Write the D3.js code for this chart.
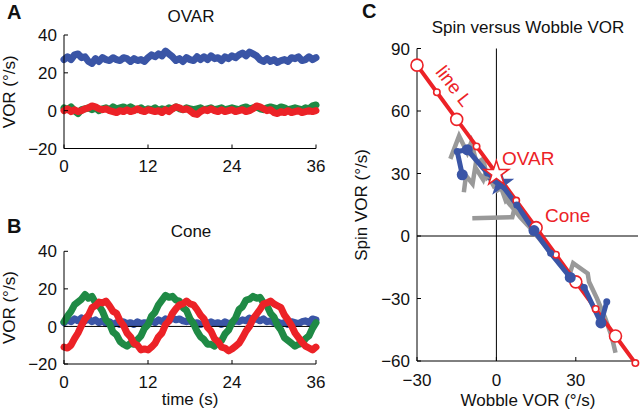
<!DOCTYPE html>
<html><head><meta charset="utf-8">
<script src="https://cdn.jsdelivr.net/npm/d3@7"></script>
<style>body{margin:0;background:#fff} text{font-family:"Liberation Sans",Arial,Helvetica,sans-serif;fill:#111}</style>
</head><body><svg id="c" width="640" height="414"></svg>
<script>
// ---------- data ----------
const timeStep = 0.5; // seconds between samples
const timeTicks = [0, 12, 24, 36];
const vorTicks = [-20, 0, 20, 40];

const ovarBlue = [27,28.5,27,29.5,30,28,28.5,26,25,27.5,26,28,27,26.5,28,27,26.5,28,27.5,26,27.5,26.5,27,26,28,29.5,28.5,30,29,31.5,30,28.5,26.5,27.5,26,28,27,26.5,28.5,27,28.5,27,29,27.5,28,26.5,28.5,27.5,29,28,29.5,30.5,29,31,30,29,27,26,27.5,26,27,25.5,26.5,27,26,28,27.5,28.5,26.5,27,28.5,27,28];
const ovarGreen = [1.5,0.5,2,0,-1.5,0.5,1,1.5,0.5,1.5,0,1,1.5,0.5,2,1,1.5,2,1,2,1,0.5,1.5,0,1,0.5,1.5,0,1,0.5,1.5,1,2,1,0.5,1.5,1,0.5,1,1.5,0.5,1,1.5,0.5,1,1.5,0.5,1,1.5,1,0.5,1.5,2,1,1.5,2,1,0.5,1.5,2,1.5,1,2,1.5,0.5,1,1.5,1,0.5,1.5,1,2.5,3];
const ovarRed = [0,1,-0.5,0.5,-0.5,0,1,1.5,2.5,2,1,0.5,1,0,-0.5,-1,0,-0.5,0.5,-0.5,0,1,0,-0.5,0.5,0,-0.5,0,-1,0.5,-0.5,1,2,1.5,0.5,1,0,-1.5,-2,-0.5,0.5,0,1,0,-0.5,0.5,-0.5,0,0.5,-0.5,0,0.5,-0.5,0,1,2.5,2,1,0,0.5,-1,-1.5,-0.5,-1,0,-1,-0.5,0,-1,-0.5,0,-0.5,0];

const coneBlue = [2,3.5,2.5,4,3,4.5,3,4,2.5,3.5,2,3,1.5,2.5,1,2,1,2.5,1.5,2,1,2.5,1.5,2,1.5,3,2,3.5,2.5,4,3,4.5,3.5,4,3,2.5,3,1.5,2,1,2,1.5,2.5,1.5,2,1,2.5,1.5,2,3,2.5,3.5,3,4.5,3.5,4,3,4,2.5,3,2,2.5,1.5,2,1,2.5,2,1.5,2.5,3,2,4,3.5];
const coneGreen = [2.5,5.5,8,11.5,13,14.5,17,15,16,12.5,11,8,3.5,1.5,-3,-4.5,-8,-9.5,-10.5,-9,-9.5,-7,-5,-1,
  1,5.5,7.5,11.5,14,16.5,15.5,16,14,13.5,10,8.5,4,1.5,-2.5,-5.5,-7,-9.5,-9.5,-10.5,-8.5,-7.5,-4,-2,
  2,4.5,9,10.5,14,14.5,16,15,15.5,12.5,11,7,5,0.5,-2,-6,-7.5,-9,-10.5,-9.5,-9,-6.5,-5,-1,2];
const coneRed = [-11,-11.5,-10,-6.5,-3.5,0.5,4,6,10,11,13,12.5,13.5,11,8,7,3,0.5,-3.5,-5.5,-9,-10,-12.5,-12,
  -12.5,-11,-9,-5.5,-3.5,1,3,7,9.5,11.5,12,13.5,12,11.5,9,6,4,-0.5,-2.5,-6.5,-8,-11,-11.5,-13,
  -12,-10.5,-9,-6,-2.5,0,4,6.5,9,12,12.5,13.5,12,11,10,6,3.5,0.5,-3.5,-6,-8.5,-10.5,-11.5,-12.5,-11];

const wobbleTicks = [-30, 0, 30];
const spinTicks = [-60, -30, 0, 30, 60, 90];

// line L points (wobble, spin); big = large open circle
const lineLWobble = [-30,-22.5,-15,-7.5,0,7.5,15,22.5,30,37.5,45,52.5];
const lineLSpin   = [82,69,56,43,30,17,4,-9,-22,-35,-48,-61];
const lineLBig    = [1,0,1,0,0,0,1,0,1,0,1,0];
const ovarPoint = [0, 30];

// blue mean trace
const traceWobble = [-12.9,-14.8,-11,-3.4,1.6,7.7,14.2,20.5,27.9,33.2,39.5,41.7];
const traceSpin   = [29.4,40.6,41.4,30.2,25.3,14.9,2.6,-8.3,-19.9,-24.7,-41.7,-31.6];
const traceBig    = [1,0,1,0,0,0,1,0,1,0,1,0];
const blueStar = [1.6, 25.3];

// individual (gray) traces
const grayTraces = [
  [[-17.4,37],[-14.1,48],[-11,40],[-9.5,45],[-7.5,35],[-5,37],[-3.5,28],[-1.5,30],[0.5,22],[3,24],[4.5,16],[6.5,13],[9,9],[12,5],[16,-1],[20,-7],[24,-13],[27.5,-19],[29,-13],[34.5,-18],[35,-22],[38,-30],[41,-39],[43.5,-48],[45,-56]],
  [[-12.3,21],[-11.5,29],[-9,25],[-8,33],[-5,27],[-4,31],[-1,24],[1,26],[3.5,17],[5,19],[7,14]],
  [[-9.1,8.5],[6,9],[6.7,12.5],[8.5,15]]
];

// ---------- drawing ----------
const svg = d3.select("#c");
const FONT = 17;
const colBlue = "#3a55a6", colGreen = "#1f8a45", colRed = "#ec2227", colGray = "#999";

function inAxes(g, x, y, xTicks, yTicks, xFmt, yFmt, xLabOff) {
  const [x0, x1] = x.range(), [y0, y1] = y.range();
  g.append("line").attr("x1", x0).attr("x2", x1).attr("y1", y0).attr("y2", y0).attr("stroke", "#000").attr("stroke-width", 1);
  g.append("line").attr("x1", x0).attr("x2", x0).attr("y1", y0).attr("y2", y1).attr("stroke", "#000").attr("stroke-width", 1);
  xTicks.forEach(t => {
    g.append("line").attr("x1", x(t)).attr("x2", x(t)).attr("y1", y0).attr("y2", y0 - 4).attr("stroke", "#000");
    g.append("text").attr("x", x(t)).attr("y", y0 + xLabOff).attr("text-anchor", "middle").attr("font-size", FONT).text(xFmt(t));
  });
  yTicks.forEach(t => {
    g.append("line").attr("x1", x0).attr("x2", x0 + 4).attr("y1", y(t)).attr("y2", y(t)).attr("stroke", "#000");
    g.append("text").attr("x", x0 - 7).attr("y", y(t)).attr("dy", "0.36em").attr("text-anchor", "end").attr("font-size", FONT).text(yFmt(t));
  });
}
const fmt = d3.format("d");

function tsPanel(yr, series, title, titleY, letter, letterY, xlabel) {
  const x = d3.scaleLinear().domain([0, 36]).range([64, 316]);
  const y = d3.scaleLinear().domain([-20, 40]).range(yr);
  const g = svg.append("g");
  const line = d3.line().x((d, i) => x(i * timeStep)).y(d => y(d));
  series.forEach(s => {
    if (s.zero) {
      g.append("line").attr("x1", x(0)).attr("x2", x(36)).attr("y1", y(0)).attr("y2", y(0)).attr("stroke", "#000").attr("stroke-width", 1);
      return;
    }
    g.append("path").datum(s.v).attr("d", line).attr("fill", "none").attr("stroke", s.c)
      .attr("stroke-width", 7).attr("stroke-linejoin", "round").attr("stroke-linecap", "round");
  });
  inAxes(g, x, y, timeTicks, vorTicks, fmt, fmt, 23.5);
  g.append("text").attr("x", 191).attr("y", titleY).attr("text-anchor", "middle").attr("font-size", FONT).text(title);
  g.append("text").attr("x", 7).attr("y", letterY).attr("font-size", 20).attr("font-weight", "bold").text(letter);
  const cy = (yr[0] + yr[1]) / 2;
  g.append("text").attr("transform", `translate(15,${cy}) rotate(-90)`).attr("text-anchor", "middle").attr("font-size", FONT).text("VOR (°/s)");
  if (xlabel) g.append("text").attr("x", 190).attr("y", 405).attr("text-anchor", "middle").attr("font-size", FONT).text(xlabel);
}

tsPanel([148.5, 35], [{v: ovarBlue, c: colBlue}, {v: ovarGreen, c: colGreen}, {v: ovarRed, c: colRed}], "OVAR", 22, "A", 19, null);
tsPanel([364, 251.3], [{v: coneBlue, c: colBlue}, {zero: true}, {v: coneGreen, c: colGreen}, {v: coneRed, c: colRed}], "Cone", 237, "B", 233, "time (s)");

// ---- panel C ----
const xC = d3.scaleLinear().domain([-30, 53.5]).range([417, 638]);
const yC = d3.scaleLinear().domain([-60, 90]).range([361, 48.5]);
const gC = svg.append("g");
gC.append("line").attr("x1", xC(0)).attr("x2", xC(0)).attr("y1", yC(-60)).attr("y2", yC(90)).attr("stroke", "#000").attr("stroke-width", 1);
gC.append("line").attr("x1", xC(-30)).attr("x2", xC(53.5)).attr("y1", yC(0)).attr("y2", yC(0)).attr("stroke", "#000").attr("stroke-width", 1);
inAxes(gC, xC, yC, wobbleTicks, spinTicks, fmt, fmt, 25);

const lineC = d3.line().x(d => xC(d[0])).y(d => yC(d[1]));
grayTraces.forEach(tr => {
  gC.append("path").datum(tr).attr("d", lineC).attr("fill", "none").attr("stroke", colGray)
    .attr("stroke-width", 4.5).attr("stroke-linejoin", "miter");
});
const lPts = lineLWobble.map((w, i) => [w, lineLSpin[i]]);
gC.append("path").datum(lPts).attr("d", lineC).attr("fill", "none").attr("stroke", colRed).attr("stroke-width", 4);
const tPts = traceWobble.map((w, i) => [w, traceSpin[i]]);
gC.append("path").datum(tPts).attr("d", lineC).attr("fill", "none").attr("stroke", colBlue).attr("stroke-width", 5).attr("stroke-linejoin", "round");

lPts.forEach((p, i) => {
  if (p[0] === ovarPoint[0]) return;
  gC.append("circle").attr("cx", xC(p[0])).attr("cy", yC(p[1])).attr("r", lineLBig[i] ? 6 : 3.2)
    .attr("fill", "#fff").attr("stroke", colRed).attr("stroke-width", 1.6);
});
tPts.forEach((p, i) => {
  gC.append("circle").attr("cx", xC(p[0])).attr("cy", yC(p[1])).attr("r", traceBig[i] ? 5.5 : 3.5).attr("fill", colBlue);
});
const star = d3.symbol().type(d3.symbolStar);
gC.append("path").attr("d", star.size(230)()).attr("transform", `translate(${xC(blueStar[0])},${yC(blueStar[1])})`).attr("fill", colBlue);
gC.append("path").attr("d", star.size(190)()).attr("transform", `translate(${xC(ovarPoint[0])},${yC(ovarPoint[1])})`)
  .attr("fill", "#fff").attr("stroke", colRed).attr("stroke-width", 1.5);

gC.append("text").attr("x", 528).attr("y", 33).attr("text-anchor", "middle").attr("font-size", FONT).text("Spin versus Wobble VOR");
gC.append("text").attr("x", 362).attr("y", 18).attr("font-size", 20).attr("font-weight", "bold").text("C");
gC.append("text").attr("transform", "translate(367,205) rotate(-90)").attr("text-anchor", "middle").attr("font-size", FONT).text("Spin VOR (°/s)");
gC.append("text").attr("x", 528).attr("y", 406).attr("text-anchor", "middle").attr("font-size", FONT).text("Wobble VOR (°/s)");
gC.append("text").attr("x", 502).attr("y", 165).attr("font-size", 19).style("fill", colRed).text("OVAR");
gC.append("text").attr("x", 545).attr("y", 222).attr("font-size", 19).style("fill", colRed).text("Cone");
gC.append("text").attr("transform", "translate(454,86) rotate(52)").attr("text-anchor", "middle").attr("dy", "0.35em").attr("font-size", 19).style("fill", colRed).text("line L");
</script></body></html>
